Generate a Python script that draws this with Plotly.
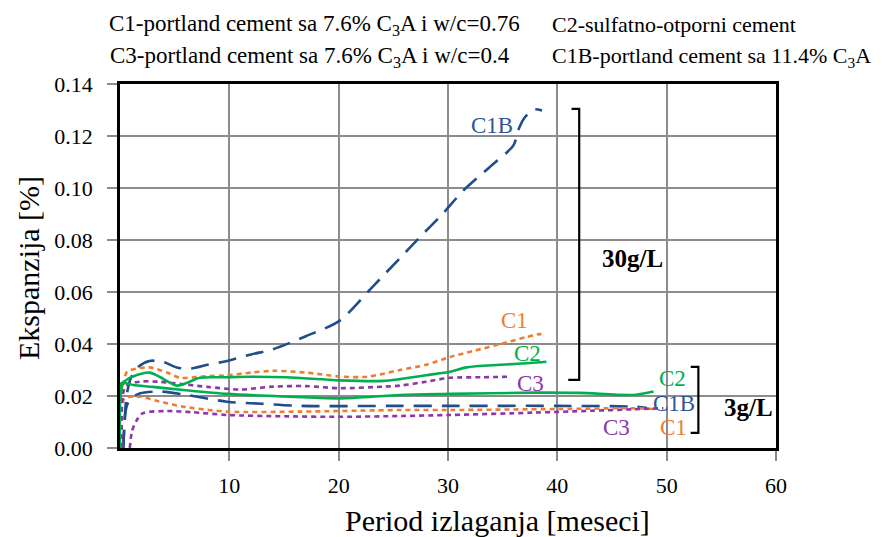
import plotly.graph_objects as go

# ---- data ----
c1b_30_x = [0.3, 0.6, 1.0, 1.6, 2.7, 4.0, 5.2, 6.4, 8.0, 9.8, 12.0, 14.0, 17.0, 20.1, 23.1, 25.6, 27.4, 29.5, 31.4, 33.8, 36.0, 36.4, 37.0, 37.8, 38.6]
c1b_30_y = [0.000, 0.020, 0.027, 0.031, 0.0335, 0.033, 0.031, 0.0305, 0.032, 0.0335, 0.036, 0.038, 0.043, 0.049, 0.062, 0.073, 0.081, 0.090, 0.099, 0.108, 0.1165, 0.122, 0.127, 0.1302, 0.1298]

c1_30_x = [0.1, 0.6, 1.5, 2.7, 4.3, 5.5, 7.5, 9.8, 12.0, 14.0, 17.0, 20.1, 22.6, 25.6, 28.0, 30.2, 32.5, 34.8, 37.2, 38.4, 38.8]
c1_30_y = [0.000, 0.029, 0.0305, 0.031, 0.029, 0.027, 0.0275, 0.028, 0.029, 0.0297, 0.029, 0.0275, 0.0274, 0.030, 0.032, 0.035, 0.0375, 0.040, 0.0427, 0.0438, 0.0433]

c2_30_x = [0.0, 0.3, 1.2, 2.7, 3.6, 5.2, 6.1, 7.3, 9.5, 11.9, 15.2, 20.1, 24.1, 25.6, 28.0, 30.2, 31.7, 34.8, 37.5, 39.0]
c2_30_y = [0.000, 0.025, 0.0275, 0.029, 0.0274, 0.024, 0.025, 0.027, 0.0272, 0.0274, 0.0272, 0.026, 0.0258, 0.0265, 0.028, 0.0293, 0.031, 0.032, 0.0327, 0.0332]

c3_30_x = [0.2, 0.5, 1.8, 3.5, 5.8, 8.0, 11.0, 14.0, 17.0, 20.1, 24.1, 25.6, 28.0, 30.2, 33.0, 35.7]
c3_30_y = [0.000, 0.0236, 0.0255, 0.0255, 0.0245, 0.0235, 0.0225, 0.0236, 0.0238, 0.023, 0.0236, 0.024, 0.0255, 0.027, 0.0272, 0.0274]

c2_3_x = [0.0, 0.15, 1.2, 3.0, 5.8, 9.8, 15.0, 20.1, 25.6, 30.2, 37.8, 42.0, 47.0, 48.8]
c2_3_y = [0.000, 0.025, 0.0242, 0.0235, 0.0223, 0.0208, 0.0198, 0.0191, 0.0204, 0.0208, 0.0213, 0.0212, 0.0204, 0.0217]

c1b_3_x = [0.3, 0.6, 1.0, 1.8, 3.7, 6.0, 9.8, 13.0, 16.5, 25.6, 30.2, 40.0, 47.0, 48.2]
c1b_3_y = [0.000, 0.0159, 0.019, 0.021, 0.0217, 0.0205, 0.0178, 0.017, 0.0162, 0.0162, 0.0162, 0.0162, 0.0159, 0.0154]

c1_3_x = [0.0, 0.4, 1.8, 3.5, 5.8, 9.8, 16.5, 25.6, 30.2, 40.0, 47.0, 48.8]
c1_3_y = [0.000, 0.019, 0.0197, 0.018, 0.0159, 0.014, 0.014, 0.0146, 0.0146, 0.015, 0.0153, 0.015]

c3_3_x = [0.9, 1.1, 1.5, 2.1, 4.3, 6.5, 9.8, 15.0, 20.1, 25.6, 30.2, 37.8, 43.0, 47.0, 49.7]
c3_3_y = [0.000, 0.0065, 0.0105, 0.0134, 0.0142, 0.0138, 0.0127, 0.0122, 0.012, 0.0123, 0.0127, 0.0136, 0.0143, 0.0149, 0.0153]

x_ticks = [10, 20, 30, 40, 50, 60]
y_ticks = [0.00, 0.02, 0.04, 0.06, 0.08, 0.10, 0.12, 0.14]
y_tick_text = ["0.00", "0.02", "0.04", "0.06", "0.08", "0.10", "0.12", "0.14"]

BLUE = "#1F4E8C"
BLUE_T = "#2F5597"
ORANGE = "#ED7D31"
GREEN = "#00B050"
PURPLE = "#8E35A8"
FONT = "Liberation Serif"

# plot area in page pixels (page has an 8px body margin)
PL, PR, PT, PB = 120, 776, 84, 448
PW, PH = PR - PL, PB - PT

def px(x):
    return (x - PL) / PW

def py(y):
    return (PB - y) / PH

fig = go.Figure()

def add(x, y, color, dash, width=2.6):
    fig.add_trace(go.Scatter(x=x, y=y, mode="lines",
                             line=dict(color=color, width=width, dash=dash, shape="spline", smoothing=0.8),
                             showlegend=False, hoverinfo="skip"))

add(c1b_30_x, c1b_30_y, BLUE, "18px,10px")
add(c1b_3_x, c1b_3_y, BLUE, "18px,10px")
add(c1_30_x, c1_30_y, ORANGE, "5px,4px")
add(c1_3_x, c1_3_y, ORANGE, "5px,4px")
add(c3_30_x, c3_30_y, PURPLE, "5px,4px")
add(c3_3_x, c3_3_y, PURPLE, "5px,4px")
add(c2_30_x, c2_30_y, GREEN, "solid")
add(c2_3_x, c2_3_y, GREEN, "solid")

# curve labels
labels = [
    ("C1B", 34.0, 0.1242, BLUE_T),
    ("C1", 36.1, 0.0492, ORANGE),
    ("C2", 37.3, 0.0362, GREEN),
    ("C3", 37.5, 0.0250, PURPLE),
    ("C2", 50.5, 0.0267, GREEN),
    ("C1B", 50.7, 0.0171, BLUE_T),
    ("C1", 50.6, 0.0079, ORANGE),
    ("C3", 45.4, 0.0079, PURPLE),
]
for t, x, y, c in labels:
    fig.add_annotation(x=x, y=y, text=t, showarrow=False,
                       font=dict(family=FONT, size=23, color=c),
                       xanchor="center", yanchor="middle")

fig.add_annotation(x=46.9, y=0.0730, text="<b>30g/L</b>", showarrow=False,
                   font=dict(family=FONT, size=25, color="black"), xanchor="center", yanchor="middle")
fig.add_annotation(x=57.5, y=0.0154, text="<b>3g/L</b>", showarrow=False,
                   font=dict(family=FONT, size=25, color="black"), xanchor="center", yanchor="middle")

# brackets
bk = dict(color="black", width=2.2)
fig.add_shape(type="path", xref="x", yref="y",
              path="M 41.3 0.1304 L 42.0 0.1304 L 42.0 0.0262 L 41.0 0.0262",
              line=bk)
fig.add_shape(type="path", xref="x", yref="y",
              path="M 52.2 0.0312 L 52.9 0.0312 L 52.9 0.0058 L 52.2 0.0058",
              line=bk)

# top legend text
legend_lines = [
    ("C1-portland cement sa 7.6% C<sub>3</sub>A i w/c=0.76", 107, 25, 23),
    ("C2-sulfatno-otporni cement", 550, 25, 22),
    ("C3-portland cement sa 7.6% C<sub>3</sub>A i w/c=0.4", 108, 57, 23),
    ("C1B-portland cement sa 11.4% C<sub>3</sub>A", 550, 57, 22),
]
for t, x0, y0, s in legend_lines:
    fig.add_annotation(xref="paper", yref="paper", x=px(x0), y=py(y0),
                       text=t, showarrow=False, xanchor="left", yanchor="middle",
                       font=dict(family=FONT, size=s, color="black"))

# axis titles
fig.add_annotation(xref="paper", yref="paper", x=px(28), y=py(268),
                   text="Ekspanzija [%]", textangle=-90, showarrow=False,
                   xanchor="center", yanchor="middle",
                   font=dict(family=FONT, size=30, color="black"))
fig.add_annotation(xref="paper", yref="paper", x=px(497), y=py(520),
                   text="Period izlaganja [meseci]", showarrow=False,
                   xanchor="center", yanchor="middle",
                   font=dict(family=FONT, size=30, color="black"))

W, H = 876, 529
fig.update_layout(
    width=W, height=H,
    margin=dict(l=PL - 8, r=W - (PR - 8), t=PT - 8, b=H - (PB - 8)),
    paper_bgcolor="white", plot_bgcolor="white",
    font=dict(family=FONT, color="black"),
    xaxis=dict(range=[0, 60], tickvals=x_ticks, ticktext=[str(v) for v in x_ticks],
               showgrid=True, gridcolor="#8C8C8C", gridwidth=2,
               showline=True, linecolor="black", linewidth=2.5, mirror=True,
               ticks="outside", ticklen=10, tickwidth=2, tickcolor="#8C8C8C",
               tickfont=dict(family=FONT, size=22), zeroline=False,
               ticklabelstandoff=6),
    yaxis=dict(range=[0, 0.14], tickvals=y_ticks, ticktext=y_tick_text,
               showgrid=True, gridcolor="#8C8C8C", gridwidth=2,
               showline=True, linecolor="black", linewidth=2.5, mirror=True,
               ticks="outside", ticklen=10, tickwidth=2, tickcolor="#8C8C8C",
               tickfont=dict(family=FONT, size=22), zeroline=False,
               ticklabelstandoff=10),
)

fig.write_html("out.html")
